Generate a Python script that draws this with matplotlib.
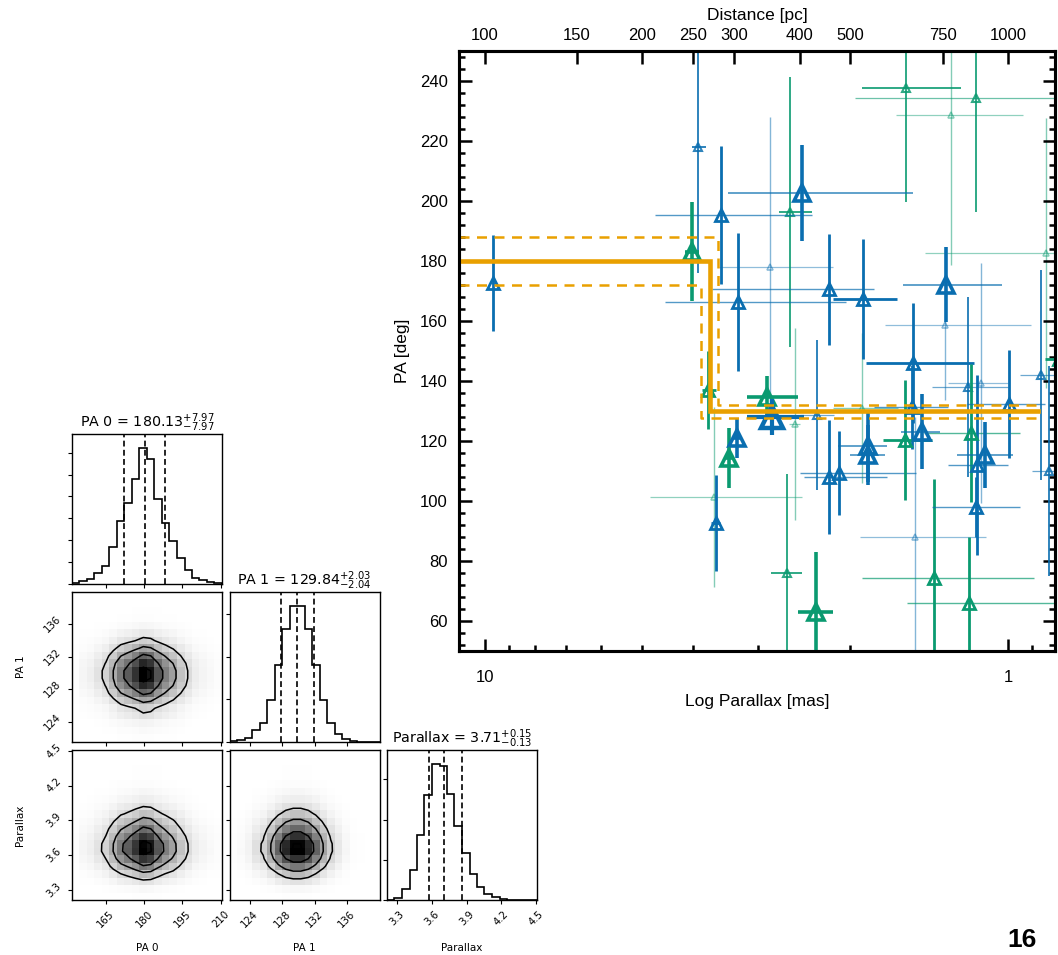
import numpy as np
import matplotlib
matplotlib.use("Agg")
import matplotlib.pyplot as plt
from matplotlib.colors import LinearSegmentedColormap
from matplotlib.ticker import MultipleLocator, NullLocator, NullFormatter, FuncFormatter, FixedLocator

# ---------------- data: main panel ----------------
plx = [9.63, 4.02, 3.91, 3.54, 3.28, 2.48, 2.61, 2.85, 2.20, 1.89,
       1.567, 1.153, 1.287, 1.312, 1.32, 1.52, 0.847, 0.866, 0.80, 3.74,
       2.89, 2.82, 2.555, 2.32, 3.30, 3.41, 3.65, 3.62, 2.20, 2.10,
       2.64, 2.33, 1.852, 1.855, 1.90, 1.526, 1.572, 1.46, 1.508, 1.387,
       1.187, 1.178, 1.108, 1.145, 1.153, 0.997, 1.19, 1.127, 0.836]
pa = [172.7, 183.0, 218.1, 195.3, 166.4, 202.8, 196.4, 178.1, 170.6, 167.3,
      237.6, 234.2, 228.6, 172.0, 158.7, 145.9, 182.8, 142.0, 147.3, 137.0,
      134.5, 128.1, 125.7, 128.7, 120.9, 114.2, 101.4, 92.6, 108.1, 109.4,
      76.1, 63.1, 118.3, 115.3, 130.9, 131.4, 120.3, 123.1, 87.9, 74.2,
      66.1, 122.6, 115.3, 112.0, 98.1, 132.2, 137.9, 139.2, 110.0]
pa_err = [16, 16.5, 42, 23, 23, 16, 45, 50, 18.5, 20,
          38, 38, 50, 12.5, 25, 20, 45, 35, 20, 13,
          7, 6, 32, 25, 6.5, 10, 30, 16, 19, 14,
          33, 20, 12, 10, 25, 14, 20, 12.5, 40, 33,
          22, 23, 11, 30, 10, 18, 30, 40, 35]
plx_hi = [9.75, 4.15, 4.02, 4.73, 4.53, 3.43, 2.74, 3.56, 3.68, 2.16,
          1.90, 1.96, 1.64, 1.59, 1.72, 1.87, 1.44, 0.95, 0.85, 3.85,
          3.16, 3.16, 2.62, 2.50, 3.36, 3.47, 4.84, 3.70, 2.45, 2.50,
          2.84, 2.52, 2.11, 2.00, 2.16, 1.80, 1.73, 1.60, 1.92, 1.90,
          1.56, 1.45, 1.25, 1.30, 1.40, 1.20, 1.40, 1.30, 0.90]
plx_lo = [9.50, 3.90, 3.78, 2.37, 2.04, 1.52, 2.37, 2.16, 1.80, 1.63,
          1.23, 0.76, 0.936, 1.027, 0.904, 1.16, 0.76, 0.78, 0.76, 3.62,
          2.52, 2.45, 2.50, 2.15, 3.24, 3.35, 2.47, 3.55, 1.70, 1.50,
          2.47, 2.16, 1.70, 1.72, 1.62, 1.30, 1.40, 1.35, 1.10, 0.89,
          0.813, 0.95, 0.98, 1.00, 0.95, 0.85, 1.00, 1.00, 0.78]
group = ['B', 'G', 'B', 'B', 'B', 'B', 'G', 'B', 'B', 'B',
         'G', 'G', 'G', 'B', 'B', 'B', 'G', 'B', 'G', 'G',
         'G', 'B', 'G', 'B', 'B', 'G', 'G', 'B', 'B', 'B',
         'G', 'G', 'B', 'B', 'G', 'B', 'G', 'B', 'B', 'G',
         'G', 'G', 'B', 'B', 'B', 'B', 'B', 'B', 'B']

# model step (PA0 / PA1 split at parallax)
step_plx = [3.71, 3.58, 3.86]          # best, upper-envelope, lower-envelope break
step_pa0 = [180.13, 188.10, 172.16]
step_pa1 = [129.84, 131.87, 127.80]
step_end = 0.877

dist_ticks = [100, 150, 200, 250, 300, 400, 500, 750, 1000]

# ---------------- data: corner plot ----------------
pa0_range = (151.7, 210.5)
pa0_counts = [2, 10, 16, 32, 54, 111, 191, 244, 317, 411, 377, 257, 184, 131, 77, 41, 19, 11, 6, 3]
pa0_q = [172.16, 180.13, 188.10]
pa1_range = (121.5, 140.0)
pa1_counts = [2, 5, 12, 35, 57, 125, 230, 338, 407, 407, 338, 230, 125, 57, 25, 8, 2, 1, 0, 0]
pa1_q = [127.80, 129.84, 131.87]
plxc_range = (3.216, 4.506)
plxc_counts = [1, 6, 32, 89, 194, 315, 410, 402, 318, 222, 142, 78, 40, 18, 8, 3, 1, 1, 0, 0]
plxc_q = [3.58, 3.71, 3.86]
titles = [r"PA 0 = $180.13_{-7.97}^{+7.97}$",
          r"PA 1 = $129.84_{-2.04}^{+2.03}$",
          r"Parallax = $3.71_{-0.13}^{+0.15}$"]
names = ["PA 0", "PA 1", "Parallax"]
ticks = [[165, 180, 195, 210], [124, 128, 132, 136], [3.3, 3.6, 3.9, 4.2, 4.5]]

# ---------------- styles ----------------
W, H = 1058, 955
fig = plt.figure(figsize=(W / 100, H / 100), dpi=100)
colors = {'B': '#0a6eb0', 'G': '#0a9a70'}
point_class = ['M', 'L', 'S', 'M', 'M', 'L', 'S', 'T', 'M', 'M',
               'S', 'S', 'T', 'L', 'T', 'M', 'T', 'S', 'M', 'M',
               'L', 'XL', 'T', 'S', 'L', 'L', 'T', 'M', 'M', 'M',
               'S', 'L', 'L', 'L', 'T', 'M', 'M', 'L', 'T', 'M',
               'M', 'M', 'L', 'M', 'M', 'M', 'S', 'T', 'S']
xthick = [0, 1, 1, 0, 0, 0, 1, 0, 0, 1,
          1, 0, 0, 0, 0, 1, 0, 0, 1, 1,
          1, 1, 0, 0, 1, 1, 0, 1, 0, 0,
          1, 1, 0, 0, 1, 0, 1, 0, 0, 0,
          0, 0, 0, 0, 0, 0, 0, 0, 0]
cls_style = {'XL': (15.5, 3.2, 3.0, 1.0, 5), 'L': (11.5, 2.6, 2.6, 1.0, 4),
             'M': (8.5, 2.0, 2.0, 1.0, 3), 'S': (5.5, 1.5, 1.4, 0.85, 2),
             'T': (4.5, 1.1, 1.0, 0.5, 1)}


def fax(l, t, w, h):
    return fig.add_axes([l / W, 1 - (t + h) / H, w / W, h / H])


# ---------------- main panel ----------------
main_font = 'Liberation Sans'
ax = fax(459, 51, 596, 600)
xl = (11.2, 0.813)
ax.set_xscale('log')
ax.set_xlim(*xl)
ax.set_ylim(50, 250)

order = sorted(range(len(plx)), key=lambda i: cls_style[point_class[i]][4])
for i in order:
    ms, mew, lw, al, z = cls_style[point_class[i]]
    c = colors[group[i]]
    ax.errorbar([plx[i]], [pa[i]], yerr=[[pa_err[i]], [pa_err[i]]], fmt='none',
                ecolor=c, elinewidth=lw, alpha=al, capsize=0, zorder=z)
    xlw = lw if xthick[i] else max(0.9, lw * 0.5)
    xal = al if xthick[i] else max(0.45, al * 0.7)
    ax.errorbar([plx[i]], [pa[i]], xerr=[[plx[i] - plx_lo[i]], [plx_hi[i] - plx[i]]],
                fmt='none', ecolor=c, elinewidth=xlw, alpha=xal, capsize=0, zorder=z)
    ax.plot([plx[i]], [pa[i]], marker='^', ls='none', mfc='none', mec=c,
            ms=ms, mew=mew, alpha=al, zorder=z + 0.5)

orange = '#E9A000'
for k in range(3):
    xs = [xl[0], step_plx[k], step_plx[k], step_end]
    ys = [step_pa0[k], step_pa0[k], step_pa1[k], step_pa1[k]]
    if k == 0:
        ax.plot(xs, ys, color=orange, lw=3.3, solid_joinstyle='miter', zorder=10)
    else:
        ax.plot(xs, ys, color=orange, lw=1.8, ls=(0, (4, 3)), zorder=10)

ax.yaxis.set_major_locator(MultipleLocator(20))
ax.yaxis.set_minor_locator(MultipleLocator(4))
ax.set_yticks(list(range(60, 241, 20)))
ax.xaxis.set_major_formatter(FuncFormatter(lambda v, p: f"{v:g}"))
ax.xaxis.set_minor_formatter(NullFormatter())
ax.tick_params(axis='both', which='both', direction='in', width=1.8)
ax.tick_params(axis='both', which='major', length=9)
ax.tick_params(axis='both', which='minor', length=4.5)
ax.tick_params(axis='y', which='both', left=True, right=True, pad=8, labelsize=12)
ax.tick_params(axis='x', which='both', top=False, bottom=True, pad=14, labelsize=12)
for lab in ax.get_xticklabels() + ax.get_yticklabels():
    lab.set_family(main_font)
for s in ax.spines.values():
    s.set_linewidth(2.2)
ax.set_xlabel("Log Parallax [mas]", fontsize=12.5, family=main_font)
ax.xaxis.set_label_coords(0.5, -0.072)
ax.set_ylabel("PA [deg]", fontsize=12.5, family=main_font)
ax.yaxis.set_label_coords(-0.082, 0.5)

ax2 = ax.twiny()
ax2.set_xscale('log')
ax2.set_xlim(*xl)
ax2.xaxis.set_major_locator(FixedLocator([1000.0 / d for d in dist_ticks]))
ax2.xaxis.set_minor_locator(NullLocator())
ax2.set_xticklabels([str(d) for d in dist_ticks], family=main_font)
ax2.tick_params(axis='x', which='major', direction='in', length=9, width=1.8,
                pad=6, labelsize=12)
for s in ax2.spines.values():
    s.set_linewidth(2.2)
ax2.set_xlabel("Distance [pc]", fontsize=12.5, family=main_font)
ax2.xaxis.set_label_coords(0.5, 1.052)

# ---------------- corner plot ----------------
col_left = [72, 229.5, 387]
row_top = [434, 592, 750]
size = 150

hist_counts = [pa0_counts, pa1_counts, plxc_counts]
hist_ranges = [pa0_range, pa1_range, plxc_range]
hist_q = [pa0_q, pa1_q, plxc_q]
edges = [np.linspace(r[0], r[1], len(c) + 1) for r, c in zip(hist_ranges, hist_counts)]
centers = [0.5 * (e[1:] + e[:-1]) for e in edges]
hist_ytick = [66, 127, 121]

density_cmap = LinearSegmentedColormap.from_list("density_cmap", ["white", "black"])
levels = 1.0 - np.exp(-0.5 * np.arange(0.5, 2.1, 0.5) ** 2)


def style_corner(a):
    a.tick_params(direction='out', length=3, width=0.8, labelsize=7.3)
    for s in a.spines.values():
        s.set_linewidth(1.0)


for i in range(3):
    for j in range(i + 1):
        a = fax(col_left[j], row_top[i], size, size)
        style_corner(a)
        if i == j:
            cnt = np.array(hist_counts[i], float)
            a.stairs(cnt, edges[i], color='k', lw=1.2)
            for q in hist_q[i]:
                a.axvline(q, color='k', ls=(0, (3.5, 2)), lw=1.2)
            a.set_xlim(*hist_ranges[i])
            a.set_ylim(0, 1.1 * cnt.max())
            a.yaxis.set_major_locator(MultipleLocator(hist_ytick[i]))
            a.set_yticklabels([])
            a.set_title(titles[i], fontsize=10.3, pad=3)
        else:
            Hm = np.outer(np.array(hist_counts[i], float), np.array(hist_counts[j], float))
            a.pcolormesh(edges[j], edges[i], (Hm / Hm.max()) ** 0.85, cmap=density_cmap,
                         vmin=0, vmax=1)
            flat = np.sort(Hm.ravel())[::-1]
            sm = np.cumsum(flat)
            sm /= sm[-1]
            V = np.sort([flat[sm <= v0][-1] for v0 in levels])
            a.contour(centers[j], centers[i], Hm, V, colors='k', linewidths=1.1)
            a.set_xlim(*hist_ranges[j])
            a.set_ylim(*hist_ranges[i])
            a.set_yticks(ticks[i])
            if j == 0:
                a.set_ylabel(names[i], fontsize=7.5)
                a.yaxis.set_label_coords(-0.31, 0.5)
                for lab in a.get_yticklabels():
                    lab.set_rotation(45)
                    lab.set_va('center')
            else:
                a.set_yticklabels([])
        a.set_xticks(ticks[j])
        a.set_xlim(*hist_ranges[j])
        if i == 2:
            a.set_xlabel(names[j], fontsize=7.5)
            a.xaxis.set_label_coords(0.5, -0.285)
            for lab in a.get_xticklabels():
                lab.set_rotation(45)
        else:
            a.set_xticklabels([])

fig.text(1022 / W, 1 - 940 / H, "16", fontsize=19, fontweight='bold',
         ha='center', va='center', family=main_font)

fig.savefig("out.png", dpi=100)
